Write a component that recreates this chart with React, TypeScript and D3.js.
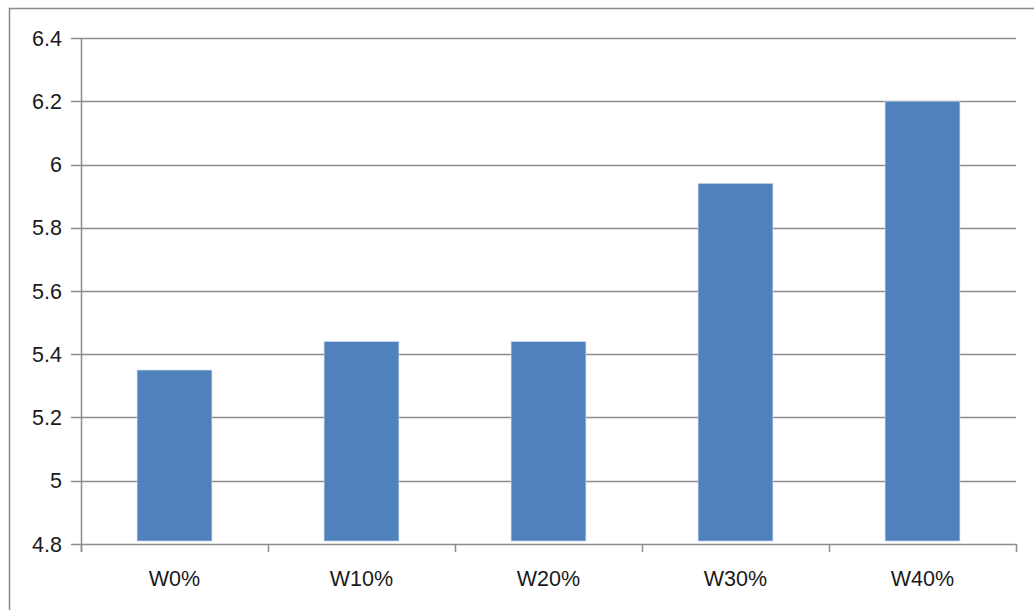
import React, { useEffect, useRef } from 'react';
import * as d3 from 'd3';

// data
const categories = ['W0%', 'W10%', 'W20%', 'W30%', 'W40%'];
const values = [5.35, 5.44, 5.44, 5.94, 6.2];
const yTicks = [4.8, 5, 5.2, 5.4, 5.6, 5.8, 6, 6.2, 6.4];

const W = 1034;
const H = 610;

const App: React.FC = () => {
  const svgRef = useRef<SVGSVGElement>(null);

  useEffect(() => {
    if (!svgRef.current) return;
    const svg = d3.select(svgRef.current);
    svg.selectAll('*').remove();

    const margin = { top: 38, right: 18, bottom: 66, left: 81 };
    const innerW = W - margin.left - margin.right;
    const innerH = H - margin.top - margin.bottom;
    const gridColor = '#8c8c8c';
    const font = '"Liberation Sans", Arial, sans-serif';

    svg.append('rect').attr('width', W).attr('height', H).attr('fill', '#fff');
    // outer chart border (runs off the right and bottom of the frame)
    svg.append('rect')
      .attr('x', 9.5).attr('y', 8.5)
      .attr('width', W + 20).attr('height', H + 20)
      .attr('fill', 'none')
      .attr('stroke', '#8a8a8a')
      .attr('stroke-width', 1.5);

    const g = svg.append('g').attr('transform', `translate(${margin.left},${margin.top})`);

    const x = d3.scaleBand<string>().domain(categories).range([0, innerW]).paddingInner(0.6).paddingOuter(0.3);
    const xb = d3.scaleLinear().domain([0, categories.length]).range([0, innerW]);
    const y = d3.scaleLinear().domain([4.8, 6.4]).range([innerH, 0]);

    // gridlines
    g.append('g')
      .selectAll('line')
      .data(yTicks)
      .join('line')
      .attr('x1', -10).attr('x2', innerW)
      .attr('y1', d => Math.round(y(d)) + 0.5).attr('y2', d => Math.round(y(d)) + 0.5)
      .attr('stroke', gridColor).attr('stroke-width', 1.5);

    // y labels
    g.append('g')
      .selectAll('text')
      .data(yTicks)
      .join('text')
      .attr('x', -19)
      .attr('y', d => y(d))
      .attr('dy', '0.36em')
      .attr('text-anchor', 'end')
      .attr('font-family', font)
      .attr('font-size', 21.5)
      .attr('fill', '#1a1a1a')
      .text(d => d3.format('~g')(d));

    // bars
    g.append('g')
      .selectAll('rect')
      .data(values)
      .join('rect')
      .attr('x', (_, i) => x(categories[i])!)
      .attr('width', x.bandwidth())
      .attr('y', d => y(d))
      .attr('height', d => y(4.8) - y(d) - 3)
      .attr('fill', '#4f81bd')
      .attr('stroke', '#c8d6ea')
      .attr('stroke-width', 0.6);

    // y axis line
    g.append('line')
      .attr('x1', 0.5).attr('x2', 0.5)
      .attr('y1', 0).attr('y2', innerH + 8)
      .attr('stroke', gridColor).attr('stroke-width', 1.5);

    // category boundary ticks
    g.append('g')
      .selectAll('line')
      .data(d3.range(categories.length + 1))
      .join('line')
      .attr('x1', d => Math.round(xb(d)) + 0.5).attr('x2', d => Math.round(xb(d)) + 0.5)
      .attr('y1', innerH).attr('y2', innerH + 8)
      .attr('stroke', gridColor).attr('stroke-width', 1.5);

    // x labels
    g.append('g')
      .selectAll('text')
      .data(categories)
      .join('text')
      .attr('x', d => x(d)! + x.bandwidth() / 2)
      .attr('y', innerH + 34)
      .attr('dy', '0.36em')
      .attr('text-anchor', 'middle')
      .attr('font-family', font)
      .attr('font-size', 21.5)
      .attr('fill', '#1a1a1a')
      .text(d => d);
  }, []);

  return (
    <svg
      ref={svgRef}
      width={W}
      height={H}
      style={{ position: 'fixed', left: 0, top: 0, display: 'block' }}
    />
  );
};

export default App;
